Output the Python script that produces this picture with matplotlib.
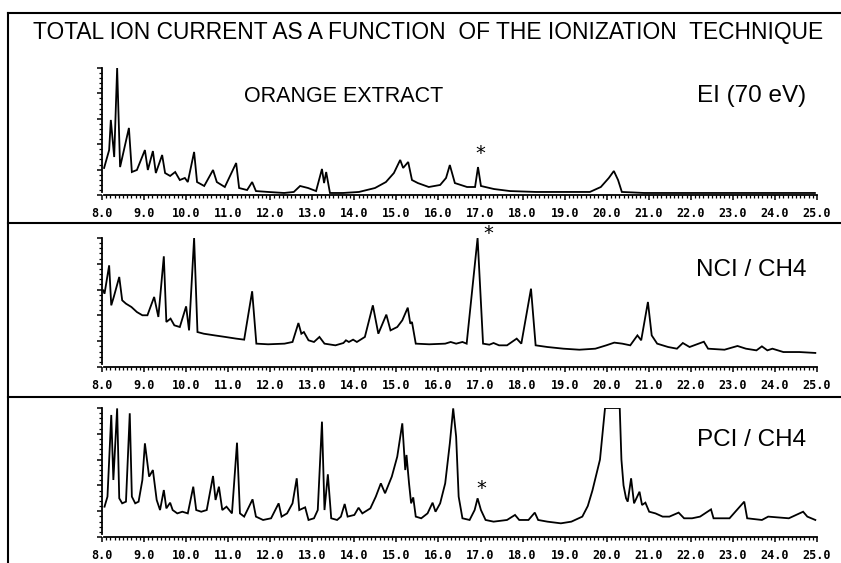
import matplotlib
matplotlib.use("Agg")
import matplotlib.pyplot as plt
from matplotlib.lines import Line2D
from matplotlib.ticker import MultipleLocator, FormatStrFormatter

# retention time (min) and total ion current (% of full scale)
ei_time = [8.05, 8.17, 8.21, 8.29, 8.36, 8.43, 8.64, 8.71, 8.83, 9.02,
           9.09, 9.21, 9.28, 9.43, 9.50, 9.62, 9.74, 9.85, 9.97, 10.04,
           10.19, 10.26, 10.43, 10.64, 10.73, 10.92, 11.19, 11.26, 11.45, 11.57,
           11.66, 11.95, 12.33, 12.56, 12.71, 12.90, 13.09, 13.23, 13.28, 13.33,
           13.42, 13.73, 14.11, 14.49, 14.75, 14.94, 15.09, 15.16, 15.28, 15.37,
           15.51, 15.77, 16.04, 16.18, 16.27, 16.39, 16.68, 16.87, 16.94, 17.01,
           17.32, 17.70, 18.32, 18.96, 19.60, 19.86, 20.05, 20.17, 20.27, 20.36,
           20.89, 22.15, 23.43, 24.95]
ei_signal = [21.3, 35.4, 59.1, 29.9, 100, 22.0, 52.8, 18.1, 19.7, 35.4,
             19.7, 34.6, 17.3, 31.5, 17.3, 15.0, 18.1, 11.8, 13.4, 10.2,
             33.9, 10.2, 7.1, 19.7, 10.2, 6.3, 25.2, 5.5, 3.9, 10.2,
             3.1, 2.4, 1.6, 2.4, 7.1, 5.5, 3.1, 20.5, 9.4, 18.1,
             1.6, 1.6, 2.4, 5.5, 10.2, 17.3, 27.6, 21.3, 26.0, 11.8,
             9.4, 6.3, 7.9, 13.4, 23.6, 9.4, 6.3, 6.3, 22.0, 7.1,
             4.7, 3.1, 2.4, 2.4, 2.4, 6.3, 13.4, 18.9, 11.8, 2.4,
             1.6, 1.6, 1.6, 1.6]

nci_time = [8.03, 8.06, 8.17, 8.22, 8.28, 8.41, 8.48, 8.57, 8.70, 8.83,
            8.96, 9.08, 9.24, 9.34, 9.47, 9.53, 9.63, 9.72, 9.85, 10.00,
            10.07, 10.19, 10.27, 10.42, 10.68, 10.93, 11.19, 11.38, 11.57, 11.67,
            11.95, 12.34, 12.53, 12.67, 12.74, 12.80, 12.91, 13.04, 13.17, 13.29,
            13.55, 13.74, 13.80, 13.87, 13.97, 14.06, 14.25, 14.44, 14.57, 14.76,
            14.86, 15.02, 15.14, 15.27, 15.33, 15.37, 15.46, 15.78, 16.16, 16.29,
            16.42, 16.57, 16.67, 16.93, 17.06, 17.21, 17.31, 17.44, 17.63, 17.86,
            17.97, 18.20, 18.31, 18.59, 18.97, 19.35, 19.73, 19.99, 20.18, 20.37,
            20.56, 20.73, 20.82, 20.98, 21.07, 21.20, 21.46, 21.67, 21.81, 21.97,
            22.31, 22.41, 22.80, 23.11, 23.31, 23.56, 23.69, 23.82, 23.94, 24.20,
            24.58, 24.96]
nci_signal = [59.4, 56.8, 78.8, 47.8, 54.3, 69.8, 51.7, 49.1, 46.5, 42.6,
              40.1, 40.1, 54.3, 38.8, 85.8, 34.9, 37.5, 32.3, 31.0, 47.0,
              28.4, 100, 27.1, 25.8, 24.5, 23.3, 22.0, 21.2, 58.7, 18.1,
              17.6, 18.1, 19.4, 34.1, 25.8, 27.1, 20.7, 19.4, 23.3, 18.1,
              16.8, 18.6, 20.7, 19.4, 21.2, 19.4, 23.3, 47.8, 25.8, 40.6,
              28.4, 31.0, 36.2, 46.0, 33.6, 34.9, 18.1, 17.6, 18.1, 19.4,
              18.1, 19.4, 18.1, 100, 18.1, 17.3, 18.6, 16.8, 16.8, 22.0,
              18.1, 60.7, 16.8, 15.5, 14.2, 13.4, 14.2, 16.8, 18.9, 18.1,
              16.8, 24.5, 20.7, 50.4, 24.5, 18.1, 15.5, 14.2, 18.6, 15.5,
              19.6, 14.2, 13.4, 16.3, 14.2, 12.9, 16.0, 12.9, 14.2, 11.6,
              11.6, 10.9]

pci_time = [8.06, 8.13, 8.22, 8.27, 8.36, 8.41, 8.48, 8.57, 8.66, 8.71,
            8.79, 8.87, 8.96, 9.02, 9.12, 9.21, 9.30, 9.38, 9.47, 9.53,
            9.62, 9.68, 9.79, 9.91, 10.04, 10.17, 10.24, 10.36, 10.49, 10.64,
            10.70, 10.78, 10.86, 10.96, 11.09, 11.21, 11.28, 11.38, 11.58, 11.66,
            11.83, 12.02, 12.20, 12.27, 12.40, 12.53, 12.63, 12.69, 12.83, 12.91,
            13.04, 13.13, 13.23, 13.29, 13.37, 13.45, 13.59, 13.68, 13.77, 13.84,
            14.00, 14.10, 14.19, 14.38, 14.51, 14.63, 14.73, 14.89, 15.02, 15.14,
            15.21, 15.24, 15.30, 15.35, 15.40, 15.46, 15.59, 15.74, 15.86, 15.93,
            16.04, 16.16, 16.27, 16.35, 16.42, 16.48, 16.57, 16.74, 16.86, 16.93,
            17.01, 17.12, 17.31, 17.63, 17.82, 17.92, 18.14, 18.29, 18.37, 18.59,
            18.91, 19.16, 19.42, 19.55, 19.66, 19.75, 19.84, 19.96, 20.31, 20.35,
            20.40, 20.46, 20.50, 20.58, 20.65, 20.78, 20.84, 20.92, 21.01, 21.16,
            21.33, 21.49, 21.71, 21.84, 22.03, 22.22, 22.48, 22.54, 22.92, 23.27,
            23.34, 23.69, 23.84, 24.33, 24.67, 24.77, 24.96]
pci_signal = [23.5, 31.3, 94.6, 44.2, 99.7, 30.0, 26.1, 27.4, 95.9, 31.3,
              26.1, 27.4, 44.2, 72.6, 46.8, 51.9, 28.7, 20.9, 36.4, 22.2,
              26.6, 20.9, 18.3, 19.6, 18.3, 39.0, 20.9, 19.6, 20.9, 47.3,
              28.7, 39.0, 20.9, 23.5, 18.3, 73.1, 18.3, 15.8, 29.2, 15.8,
              13.2, 14.5, 26.1, 15.8, 18.3, 26.1, 45.5, 20.9, 23.0, 13.2,
              14.5, 20.9, 89.4, 20.9, 48.6, 14.5, 13.2, 15.8, 25.6, 15.8,
              17.1, 22.7, 18.3, 22.2, 31.3, 41.6, 33.9, 46.8, 62.3, 88.1,
              51.9, 63.6, 41.6, 26.1, 30.7, 15.8, 14.5, 18.3, 26.6, 19.6,
              26.1, 41.6, 72.6, 99.7, 77.8, 31.3, 14.5, 13.2, 20.9, 30.0,
              20.9, 13.2, 11.9, 13.2, 17.1, 13.2, 13.2, 18.9, 13.2, 11.9,
              10.6, 11.9, 15.8, 24.0, 36.0, 48.0, 60.0, 100, 100, 60.0,
              40.0, 30.0, 27.4, 45.5, 26.1, 35.1, 24.8, 26.6, 19.6, 18.3,
              15.8, 15.8, 18.9, 14.5, 14.5, 15.8, 21.4, 14.5, 14.5, 27.4,
              14.5, 13.2, 15.8, 14.5, 19.6, 15.8, 13.2]

title = "TOTAL ION CURRENT AS A FUNCTION  OF THE IONIZATION  TECHNIQUE"
sample_name = "ORANGE EXTRACT"
technique_names = ["EI (70 eV)", "NCI / CH4", "PCI / CH4"]
star_times = [17.0, 17.18, 17.03]
star_levels = [37, 108, 42]

traces = [(ei_time, ei_signal), (nci_time, nci_signal), (pci_time, pci_signal)]

W, H = 841, 563
sans = ['Liberation Sans', 'DejaVu Sans']

fig = plt.figure(figsize=(W / 100, H / 100), dpi=100)

# axes boxes in pixels: left, top, right, bottom
boxes = [(102, 68, 817, 195), (102, 238, 817, 367), (102, 408, 817, 537)]
label_y = [96, 270, 440]

for i, (t, s) in enumerate(traces):
    x0, yt, x1, yb = boxes[i]
    ax = fig.add_axes([x0 / W, 1 - yb / H, (x1 - x0) / W, (yb - yt) / H])
    ax.plot(t, s, color='black', lw=1.3, solid_joinstyle='miter')
    ax.set_xlim(8, 25)
    ax.set_ylim(0, 100)
    ax.set_facecolor('none')
    for side in ['top', 'right']:
        ax.spines[side].set_visible(False)
    ax.spines['left'].set_linewidth(1.3)
    ax.spines['bottom'].set_linewidth(1.3)
    ax.spines['left'].set_bounds(2, 100)
    ax.spines['bottom'].set_bounds(8.05, 25)
    ax.xaxis.set_major_locator(MultipleLocator(1.0))
    ax.xaxis.set_minor_locator(MultipleLocator(0.1))
    ax.xaxis.set_major_formatter(FormatStrFormatter('%.1f'))
    ax.yaxis.set_major_locator(MultipleLocator(20))
    ax.yaxis.set_minor_locator(MultipleLocator(4))
    ax.set_yticklabels([])
    ax.tick_params(axis='x', which='major', direction='out', length=3.5, width=1.1, pad=5)
    ax.tick_params(axis='x', which='minor', direction='out', length=1.8, width=0.9)
    ax.tick_params(axis='y', which='major', direction='out', length=3.5, width=1.1)
    ax.tick_params(axis='y', which='minor', direction='out', length=2.0, width=0.9)
    for lab in ax.get_xticklabels():
        lab.set_family('DejaVu Sans Mono')
        lab.set_weight('bold')
        lab.set_fontsize(8.5)

    ax.annotate('*', xy=(star_times[i], star_levels[i]), xytext=(0, -8),
                textcoords='offset points', ha='center', va='baseline',
                fontsize=14, annotation_clip=False)

    fig.text(806 / W, 1 - label_y[i] / H, technique_names[i], ha='right', va='center',
             family=sans, fontsize=17.5)

fig.text(344 / W, 1 - 97 / H, sample_name, ha='center', va='center',
         family=sans, fontsize=15.5)
fig.text(428 / W, 1 - 32 / H, title, ha='center', va='center',
         family=sans, fontsize=16.4)

# frame and panel separators
frame = dict(color='black', lw=1.5, transform=fig.transFigure)
fig.add_artist(Line2D([8 / W, 8 / W], [0, 1 - 13 / H], **frame))
fig.add_artist(Line2D([8 / W, 1], [1 - 13 / H, 1 - 13 / H], **frame))
for ysep in [223, 397]:
    fig.add_artist(Line2D([8 / W, 1], [1 - ysep / H, 1 - ysep / H], **frame))

fig.savefig('out.png', dpi=100)
